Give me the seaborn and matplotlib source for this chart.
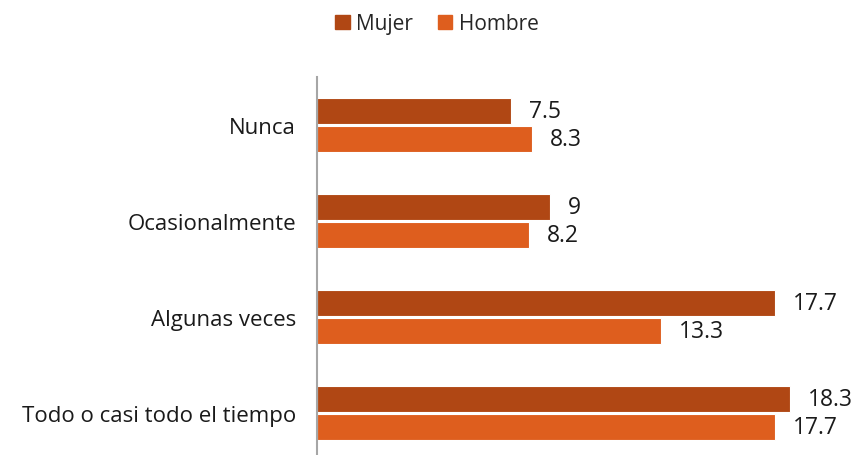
import pandas as pd
import matplotlib.pyplot as plt
import seaborn as sns

# Datos
categorias = ['Nunca', 'Ocasionalmente', 'Algunas veces', 'Todo o casi todo el tiempo']
mujer = [7.5, 9, 17.7, 18.3]
hombre = [8.3, 8.2, 13.3, 17.7]
series = ['Mujer', 'Hombre']
colores = ['#B04714', '#DE5E1E']

df = pd.DataFrame({
    'categoria': categorias * 2,
    'valor': mujer + hombre,
    'sexo': ['Mujer'] * len(categorias) + ['Hombre'] * len(categorias),
})

sns.set_style('white')
plt.rcParams['font.family'] = ['Open Sans', 'DejaVu Sans']

fig = plt.figure(figsize=(8.6, 4.56), dpi=100)
ax = fig.add_axes([317 / 860, 0.0, 517 / 860, (456 - 78) / 456])

sns.barplot(
    data=df, y='categoria', x='valor', hue='sexo',
    order=categorias, hue_order=series, palette=colores, saturation=1,
    orient='h', width=0.6, gap=0.1, edgecolor='white', linewidth=0.8,
    ax=ax, legend=False,
)

for cont in ax.containers:
    ax.bar_label(cont, labels=[f'{v:g}' for v in cont.datavalues],
                 padding=13, fontsize=16.5, color='#1a1a1a')

ax.set_xlim(0, 20)
ax.set_ylim(3.4375, -0.5)
ax.set_xlabel('')
ax.set_ylabel('')
ax.set_xticks([])
ax.tick_params(axis='y', length=0, pad=15, labelsize=16, labelcolor='#1a1a1a')
for lado in ['top', 'right', 'bottom']:
    ax.spines[lado].set_visible(False)
ax.spines['left'].set_color('#A6A6A6')
ax.spines['left'].set_linewidth(1.5)

handles = [plt.Rectangle((0, 0), 1, 1, color=c) for c in colores]
fig.legend(handles, series, loc='upper center', bbox_to_anchor=(0.508, 1.01),
           ncol=2, frameon=False, fontsize=15, handlelength=0.7, handleheight=0.7,
           handletextpad=0.3, columnspacing=1.2)

plt.savefig('out.png', dpi=100)
